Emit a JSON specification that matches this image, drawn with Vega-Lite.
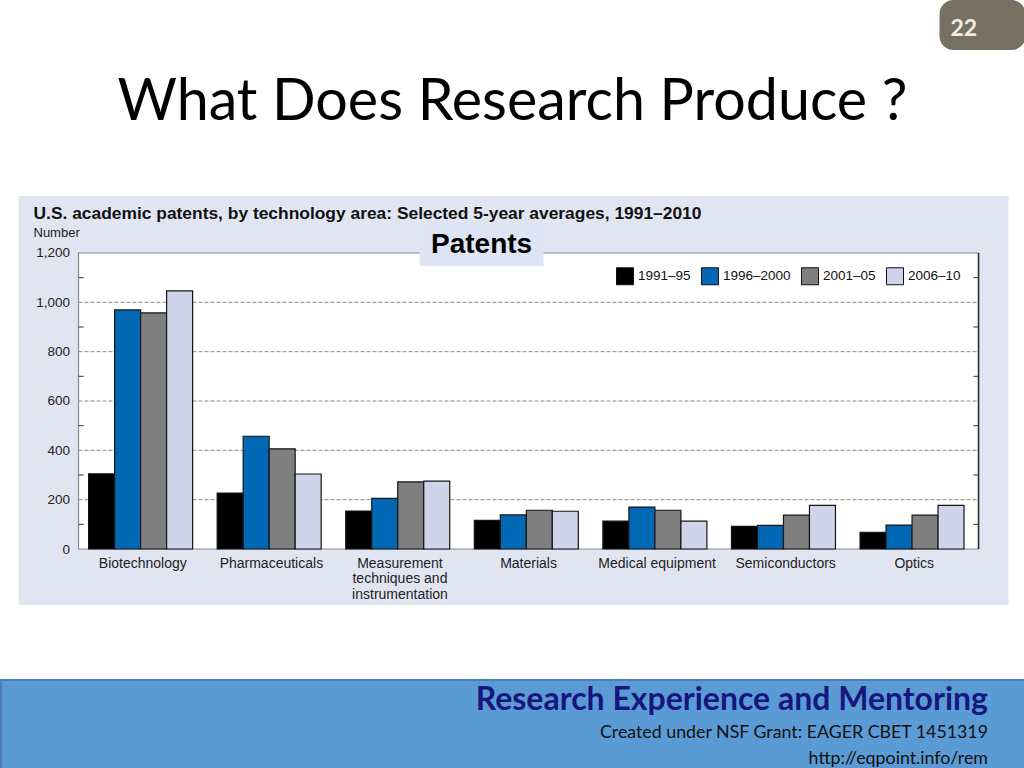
{
  "$schema": "https://vega.github.io/schema/vega-lite/v6.json",
  "background": "white",
  "padding": 0,
  "spacing": 64,
  "center": true,
  "vconcat": [
    {
      "spacing": 0,
      "hconcat": [
        {
          "width": 938,
          "height": 50,
          "view": {"fill": null, "stroke": null},
          "data": {"values": [{}]},
          "mark": {"type": "text"},
          "encoding": {"text": {"value": ""}},
          "title": {"text": "What Does Research Produce ?", "orient": "bottom", "anchor": "start", "frame": "group", "dx": 116, "fontSize": 57.4, "font": "Lato", "fontWeight": "normal", "color": "#000000", "offset": 25}
        },
        {
          "width": 86,
          "height": 50,
          "view": {"fill": "#787163", "stroke": null, "cornerRadius": 14},
          "data": {"values": [{}]},
          "mark": {"type": "text"},
          "encoding": {"text": {"value": ""}},
          "title": {"text": "22", "orient": "top", "anchor": "start", "frame": "group", "dx": 11, "offset": -41, "fontSize": 23, "font": "Lato", "fontWeight": "bold", "color": "#f0ede6"}
        }
      ]
    },
    {
      "spacing": 74,
      "center": true,
      "vconcat": [
        {
          "width": 990,
          "height": 409,
          "view": {"fill": "#e1e5f2", "stroke": null},
          "title": {"text": "U.S. academic patents, by technology area: Selected 5-year averages, 1991–2010", "subtitle": "Number", "anchor": "start", "frame": "group", "dx": 15, "offset": -44, "font": "Liberation Sans", "fontSize": 17.4, "fontWeight": "bold", "color": "#111111", "subtitleFont": "Liberation Sans", "subtitleFontSize": 13, "subtitleColor": "#222222", "subtitlePadding": 5},
          "layer": [
            {
              "data": {"values": [{}]},
              "mark": {"type": "rect", "fill": "white", "stroke": "#8a8a8a", "strokeWidth": 1.2},
              "encoding": {
                "x": {"datum": "Biotechnology", "type": "nominal", "bandPosition": 0},
                "x2": {"datum": "Optics", "bandPosition": 1},
                "y": {"datum": 0, "type": "quantitative"},
                "y2": {"datum": 1200}
              }
            },
            {
              "data": {"values": [{"v": 200}, {"v": 400}, {"v": 600}, {"v": 800}, {"v": 1000}]},
              "mark": {"type": "rule", "stroke": "#8c8c8c", "strokeDash": [4, 2], "strokeWidth": 1},
              "encoding": {
                "y": {"field": "v", "type": "quantitative", "title": null},
                "x": {"datum": "Biotechnology", "type": "nominal", "bandPosition": 0},
                "x2": {"datum": "Optics", "bandPosition": 1}
              }
            },
            {
              "data": {"values": [{"v": 100}, {"v": 300}, {"v": 500}, {"v": 700}, {"v": 900}, {"v": 1100}]},
              "mark": {"type": "rule", "stroke": "#333333", "strokeWidth": 1},
              "encoding": {
                "y": {"field": "v", "type": "quantitative", "title": null},
                "x": {"datum": "Biotechnology", "type": "nominal", "bandPosition": 0},
                "x2": {"datum": "Biotechnology", "bandPosition": 0.04}
              }
            },
            {
              "data": {"values": [{"v": 100}, {"v": 300}, {"v": 500}, {"v": 700}, {"v": 900}, {"v": 1100}]},
              "mark": {"type": "rule", "stroke": "#333333", "strokeWidth": 1},
              "encoding": {
                "y": {"field": "v", "type": "quantitative", "title": null},
                "x": {"datum": "Optics", "type": "nominal", "bandPosition": 0.96},
                "x2": {"datum": "Optics", "bandPosition": 1}
              }
            },
            {
              "data": {"values": [
                {"area": "Biotechnology", "period": "1991–95", "value": 305},
                {"area": "Biotechnology", "period": "1996–2000", "value": 969},
                {"area": "Biotechnology", "period": "2001–05", "value": 957},
                {"area": "Biotechnology", "period": "2006–10", "value": 1046},
                {"area": "Pharmaceuticals", "period": "1991–95", "value": 227},
                {"area": "Pharmaceuticals", "period": "1996–2000", "value": 457},
                {"area": "Pharmaceuticals", "period": "2001–05", "value": 406},
                {"area": "Pharmaceuticals", "period": "2006–10", "value": 304},
                {"area": "Measurement techniques and instrumentation", "period": "1991–95", "value": 154},
                {"area": "Measurement techniques and instrumentation", "period": "1996–2000", "value": 205},
                {"area": "Measurement techniques and instrumentation", "period": "2001–05", "value": 272},
                {"area": "Measurement techniques and instrumentation", "period": "2006–10", "value": 275},
                {"area": "Materials", "period": "1991–95", "value": 116},
                {"area": "Materials", "period": "1996–2000", "value": 138},
                {"area": "Materials", "period": "2001–05", "value": 157},
                {"area": "Materials", "period": "2006–10", "value": 153},
                {"area": "Medical equipment", "period": "1991–95", "value": 113},
                {"area": "Medical equipment", "period": "1996–2000", "value": 170},
                {"area": "Medical equipment", "period": "2001–05", "value": 157},
                {"area": "Medical equipment", "period": "2006–10", "value": 113},
                {"area": "Semiconductors", "period": "1991–95", "value": 92},
                {"area": "Semiconductors", "period": "1996–2000", "value": 96},
                {"area": "Semiconductors", "period": "2001–05", "value": 137},
                {"area": "Semiconductors", "period": "2006–10", "value": 177},
                {"area": "Optics", "period": "1991–95", "value": 68},
                {"area": "Optics", "period": "1996–2000", "value": 97},
                {"area": "Optics", "period": "2001–05", "value": 137},
                {"area": "Optics", "period": "2006–10", "value": 177}
              ]},
              "mark": {"type": "bar", "stroke": "#151515", "strokeWidth": 1.2},
              "encoding": {
                "x": {
                  "field": "area", "type": "nominal", "title": null, "sort": null,
                  "scale": {"domain": ["Biotechnology", "Pharmaceuticals", "Measurement techniques and instrumentation", "Materials", "Medical equipment", "Semiconductors", "Optics"], "paddingInner": 0, "paddingOuter": 0.35, "align": 0.667},
                  "axis": {"orient": "bottom", "offset": -56, "ticks": false, "domain": false, "grid": false, "labelAngle": 0, "labelAlign": "center", "labelPadding": 7, "labelFontSize": 14, "labelLineHeight": 15.5, "labelBaseline": "top", "labelExpr": "datum.value == 'Measurement techniques and instrumentation' ? ['Measurement', 'techniques and', 'instrumentation'] : datum.value"}
                },
                "xOffset": {"field": "period", "type": "nominal", "sort": null, "scale": {"domain": ["1991–95", "1996–2000", "2001–05", "2006–10"], "paddingInner": 0, "paddingOuter": 0.4725, "align": 0.41}},
                "y": {
                  "field": "value", "type": "quantitative", "title": null,
                  "scale": {"domain": [-227, 1431], "nice": false, "zero": false},
                  "axis": {"orient": "left", "offset": -60, "values": [0, 200, 400, 600, 800, 1000, 1200], "format": ",.0f", "ticks": false, "domain": false, "grid": false, "labelPadding": 9, "labelFontSize": 13.5}
                },
                "y2": {"datum": 0},
                "color": {
                  "field": "period", "type": "nominal", "sort": null,
                  "scale": {"domain": ["1991–95", "1996–2000", "2001–05", "2006–10"], "range": ["#000000", "#0068b5", "#7f7f7f", "#cdd5ea"]},
                  "legend": {"title": null, "orient": "none", "legendX": 615, "legendY": 267, "direction": "horizontal"}
                }
              }
            },
            {
              "data": {"values": [{}]},
              "mark": {"type": "rule", "stroke": "#2a2a2a", "strokeWidth": 1.5},
              "encoding": {
                "x": {"datum": "Optics", "type": "nominal", "bandPosition": 1},
                "y": {"datum": 0, "type": "quantitative"},
                "y2": {"datum": 1200}
              }
            },
            {
              "data": {"values": [{}]},
              "mark": {"type": "rect", "fill": "#dde4f4"},
              "encoding": {
                "x": {"datum": "Measurement techniques and instrumentation", "type": "nominal", "bandPosition": 0.653},
                "x2": {"datum": "Measurement techniques and instrumentation", "bandPosition": 1.617},
                "y": {"datum": 1147, "type": "quantitative"},
                "y2": {"datum": 1326}
              }
            },
            {
              "data": {"values": [{}]},
              "mark": {"type": "text", "text": "Patents", "font": "Liberation Sans", "fontSize": 28, "fontWeight": "bold", "color": "#000000", "align": "center", "baseline": "middle"},
              "encoding": {
                "x": {"datum": "Measurement techniques and instrumentation", "type": "nominal", "bandPosition": 1.135},
                "y": {"datum": 1234, "type": "quantitative"}
              }
            }
          ]
        },
        {
          "width": 1024,
          "height": 89,
          "view": {"fill": "#5b9bd5", "stroke": "#4f7fb5", "strokeWidth": 2},
          "data": {"values": [{}]},
          "mark": {"type": "text"},
          "encoding": {"text": {"value": ""}},
          "title": {"text": "Research Experience and Mentoring", "subtitle": ["Created under NSF Grant: EAGER CBET 1451319", "http://eqpoint.info/rem"], "anchor": "end", "frame": "group", "dx": -37, "offset": -89, "font": "Lato", "fontSize": 32, "fontWeight": "bold", "color": "#16167e", "subtitleFont": "Lato", "subtitleFontSize": 17.8, "subtitleColor": "#111111", "subtitleLineHeight": 26.5, "subtitlePadding": 7}
        }
      ]
    }
  ],
  "config": {
    "view": {"stroke": null},
    "axis": {"labelFont": "Liberation Sans", "labelColor": "#222222", "zindex": 1},
    "legend": {"symbolType": "square", "symbolSize": 289, "symbolStrokeColor": "#111111", "symbolStrokeWidth": 1, "symbolOpacity": 1, "labelFont": "Liberation Sans", "labelFontSize": 13.5, "labelColor": "#111111", "columnPadding": 8, "labelOffset": 4, "padding": 0}
  }
}
